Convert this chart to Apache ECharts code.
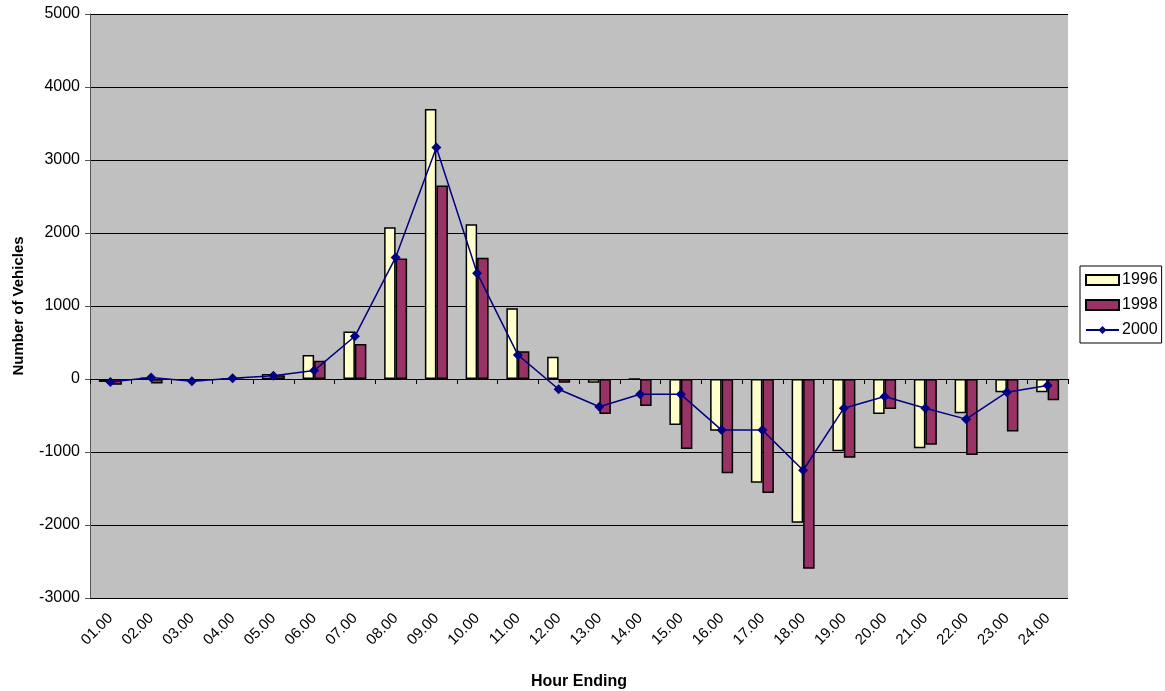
<!DOCTYPE html>
<html>
<head>
<meta charset="utf-8">
<script src="https://cdn.jsdelivr.net/npm/echarts@6/dist/echarts.min.js"></script>
<style>
  html, body { margin: 0; padding: 0; background: #fff; }
  #chart { width: 1165px; height: 691px; }
</style>
</head>
<body>
<div id="chart"></div>
<script>
const hours = ['01.00', '02.00', '03.00', '04.00', '05.00', '06.00', '07.00', '08.00',
  '09.00', '10.00', '11.00', '12.00', '13.00', '14.00', '15.00', '16.00',
  '17.00', '18.00', '19.00', '20.00', '21.00', '22.00', '23.00', '24.00']

const values1996 = [-40, 20, -20, 10, 70, 330, 650, 2080, 3700, 2120, 970, 305,
  -50, 0, -630, -710, -1420, -1970, -990, -480, -950, -470, -180, -180]

const values1998 = [-80, -60, -30, -10, 50, 250, 480, 1650, 2650, 1660, 380, -50,
  -480, -370, -960, -1290, -1560, -2600, -1080, -410, -900, -1040, -720, -290]

const values2000 = [-40, 20, -30, 10, 45, 115, 585, 1665, 3170, 1450, 330, -140,
  -380, -210, -210, -700, -700, -1250, -400, -240, -400, -550, -180, -90]

const chart = echarts.init(document.getElementById('chart'))
const fontFamily = '"Liberation Sans", Arial, sans-serif'

chart.setOption({
  backgroundColor: '#ffffff',
  animation: false,
  textStyle: { fontFamily: fontFamily },
  grid: {
    left: 90,
    right: 97,
    top: 14,
    bottom: 93,
    outerBoundsMode: 'none',
    containLabel: false,
    show: true,
    backgroundColor: '#c0c0c0',
    borderWidth: 0
  },
  legend: {
    orient: 'vertical',
    left: 1080,
    top: 266,
    padding: [6, 4, 5, 5],
    itemGap: 9,
    itemWidth: 33,
    itemHeight: 10,
    backgroundColor: '#ffffff',
    borderColor: '#000000',
    borderWidth: 1,
    borderRadius: 0,
    textStyle: { color: '#000', fontSize: 16, fontFamily: fontFamily, padding: [0, 0, 0, -2] },
    data: [
      { name: '1996', icon: 'rect' },
      { name: '1998', icon: 'rect' },
      { name: '2000' }
    ]
  },
  xAxis: [
    {
      type: 'category',
      data: hours,
      position: 'bottom',
      axisLine: { show: false, onZero: false },
      axisTick: { show: false },
      axisLabel: {
        rotate: 45,
        color: '#000',
        fontSize: 15,
        margin: 18,
        interval: 0
      },
      name: 'Hour Ending',
      nameLocation: 'middle',
      nameGap: 76,
      nameTextStyle: { fontWeight: 'bold', fontSize: 16, color: '#000' },
      splitLine: { show: false }
    },
    {
      type: 'category',
      data: hours,
      position: 'bottom',
      axisLine: { show: true, onZero: true, onZeroAxisIndex: 0, lineStyle: { color: '#000', width: 1 } },
      axisTick: { show: true, length: 5, inside: false, lineStyle: { color: '#000' } },
      axisLabel: { show: false },
      splitLine: { show: false }
    }
  ],
  yAxis: {
    type: 'value',
    min: -3000,
    max: 5000,
    interval: 1000,
    axisLine: { show: true, lineStyle: { color: '#555', width: 1 } },
    axisTick: { show: true, length: 5, lineStyle: { color: '#555' } },
    axisLabel: { color: '#000', fontSize: 16, margin: 10, formatter: value => String(value) },
    splitLine: { show: true, lineStyle: { color: '#000', width: 1 } },
    name: 'Number of Vehicles',
    nameLocation: 'middle',
    nameGap: 64,
    nameTextStyle: { fontWeight: 'bold', fontSize: 15, color: '#000' }
  },
  series: [
    {
      name: '1996',
      type: 'bar',
      xAxisIndex: 0,
      barWidth: 11.5,
      barGap: '0%',
      itemStyle: { color: '#ffffcc', borderColor: '#000', borderWidth: 1.5 },
      data: values1996
    },
    {
      name: '1998',
      type: 'bar',
      xAxisIndex: 0,
      barWidth: 11.5,
      barGap: '0%',
      itemStyle: { color: '#993366', borderColor: '#000', borderWidth: 1.5 },
      data: values1998
    },
    {
      name: '2000',
      type: 'line',
      xAxisIndex: 0,
      symbol: 'diamond',
      symbolSize: 10,
      lineStyle: { color: '#000080', width: 1.5 },
      itemStyle: { color: '#000080' },
      z: 5,
      data: values2000
    }
  ]
})
</script>
</body>
</html>
